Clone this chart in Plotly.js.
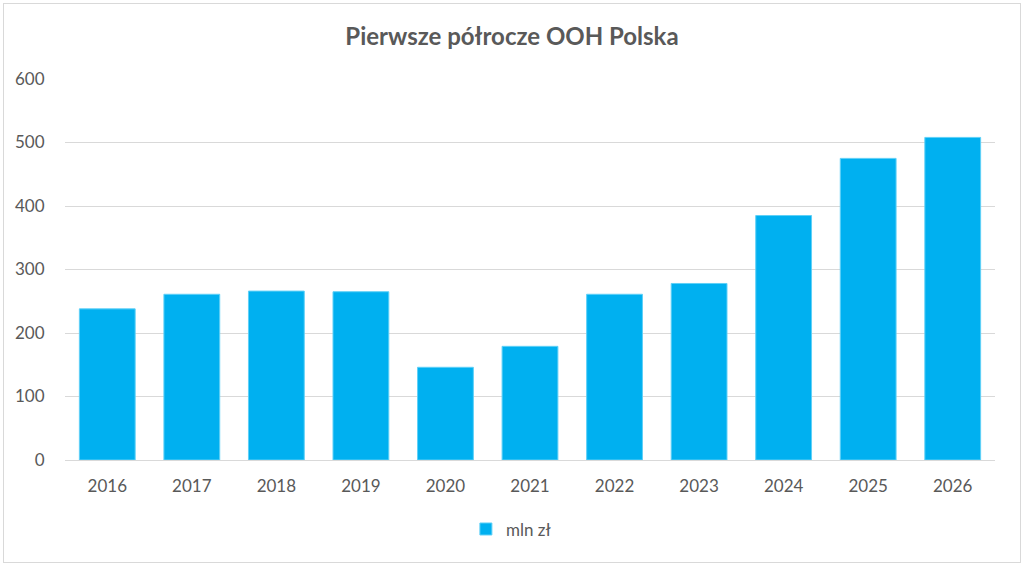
<!DOCTYPE html>
<html>
<head>
<meta charset="utf-8">
<script src="https://cdn.plot.ly/plotly-3.0.1.min.js"></script>
<style>
  body { margin: 0; background: #fff; }
  #frame { position: absolute; left: 3px; top: 3px; width: 1016px; height: 558px; border: 1px solid #d9d9d9; }
  #chart { position: absolute; left: 0; top: 0; width: 1024px; height: 567px; }
</style>
</head>
<body>
<div id="frame"></div>
<div id="chart"></div>
<script>
// lata i wartości (mln zł)
const years = ['2016', '2017', '2018', '2019', '2020', '2021', '2022', '2023', '2024', '2025', '2026'];
const values = [238, 261, 266, 265, 146, 179, 261, 278, 385, 475, 508];
const seriesName = 'mln zł';

const trace = {
    x: years,
    y: values,
    type: 'bar',
    name: seriesName,
    marker: { color: '#00B0F0', line: { color: '#5fd0f7', width: 1 } },
    hoverinfo: 'x+y'
};

const layout = {
    width: 1024,
    height: 567,
    margin: { l: 65, r: 29, t: 79, b: 107 },
    paper_bgcolor: 'rgba(0,0,0,0)',
    plot_bgcolor: 'rgba(0,0,0,0)',
    font: { family: 'Lato, "Open Sans", sans-serif', color: '#595959', size: 17 },
    title: {
        text: '<b>Pierwsze półrocze OOH Polska</b>',
        font: { size: 24, color: '#595959' },
        x: 0.5,
        xref: 'container',
        y: 0.936,
        yanchor: 'middle'
    },
    bargap: 0.34,
    showlegend: true,
    legend: {
        orientation: 'h',
        x: 0.48,
        xanchor: 'center',
        y: -0.135,
        yanchor: 'top',
        font: { size: 17, color: '#595959' }
    },
    xaxis: {
        type: 'category',
        showgrid: false,
        showline: true,
        linecolor: '#d9d9d9',
        linewidth: 1,
        ticks: 'outside',
        ticklen: 11,
        tickcolor: 'rgba(0,0,0,0)',
        tickfont: { size: 17, color: '#595959' }
    },
    yaxis: {
        range: [0, 600],
        dtick: 100,
        showgrid: true,
        gridcolor: '#d9d9d9',
        gridwidth: 1,
        zeroline: false,
        showline: false,
        ticks: 'outside',
        ticklen: 16,
        tickcolor: 'rgba(0,0,0,0)',
        tickfont: { size: 17, color: '#595959' }
    }
};

Plotly.newPlot('chart', [trace], layout, { displayModeBar: false });
</script>
</body>
</html>
